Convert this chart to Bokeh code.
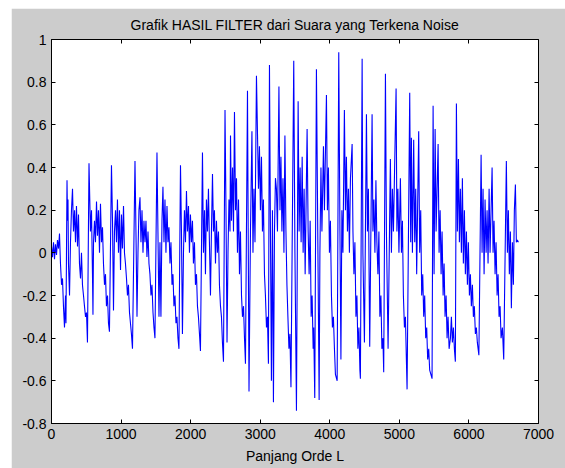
from bokeh.plotting import figure
from bokeh.models import FixedTicker, CustomJSTickFormatter, LinearAxis, Range1d
from bokeh.embed import file_html
from bokeh.resources import INLINE

title_text = "Grafik HASIL FILTER dari Suara yang Terkena Noise"
x_label = "Panjang Orde L"
x_ticks = [0, 1000, 2000, 3000, 4000, 5000, 6000, 7000]
y_ticks = [-0.8, -0.6, -0.4, -0.2, 0.0, 0.2, 0.4, 0.6, 0.8, 1.0]

sample_idx = [
    0, 14, 29, 43, 57, 72, 86, 101, 115, 129, 144, 158, 172, 187, 201, 208,
    223, 230, 237, 244, 259, 273, 287, 302, 316, 331, 345, 359, 374, 388, 402, 417, 431, 445, 460, 474, 489, 503, 517,
    539, 560, 575, 589, 596, 604, 618, 632, 647, 661, 675, 690, 704, 719, 733, 747, 762, 776, 790, 805, 819, 833,
    862, 877, 891, 905, 920, 934, 948, 963, 977, 992, 1006, 1020, 1035, 1049, 1063, 1078, 1092, 1106, 1121, 1135, 1149, 1164,
    1200, 1214, 1229, 1243, 1257, 1272, 1286, 1301, 1315, 1329, 1344, 1358, 1372, 1387, 1401, 1415, 1430, 1444, 1459, 1473, 1487,
    1516, 1530, 1545, 1559, 1573, 1588, 1602, 1617, 1631, 1645, 1660, 1674, 1688, 1703, 1717, 1732, 1746, 1760, 1775, 1789, 1803, 1818, 1832,
    1854, 1868, 1882, 1897, 1911, 1926, 1940, 1954, 1969, 1983, 1997, 2012, 2026, 2040, 2055, 2069, 2084, 2098, 2112, 2127, 2141,
    2170, 2184, 2199, 2213, 2227, 2242, 2256, 2270, 2285, 2299, 2314, 2328, 2342, 2357, 2371, 2385, 2400, 2414, 2429, 2443, 2457, 2472,
    2494, 2508, 2523, 2537, 2551, 2566, 2573, 2587, 2602, 2616, 2630, 2645, 2659, 2673, 2688, 2702, 2716, 2731, 2745, 2760, 2774, 2788,
    2817, 2839, 2860, 2881, 2896, 2910, 2925, 2946, 2975, 2989, 3003, 3018, 3032, 3046, 3061, 3075, 3090, 3104, 3118,
    3133, 3147, 3161, 3176, 3190, 3205, 3219, 3233, 3248, 3269, 3284, 3298, 3312, 3327, 3341, 3355, 3370, 3384, 3398, 3413, 3427, 3442,
    3482, 3499, 3521, 3545, 3559, 3574, 3588, 3603, 3617, 3631, 3646, 3674, 3689, 3703, 3718, 3732, 3746, 3761, 3769, 3784,
    3808, 3847, 3858, 3873, 3887, 3909, 3923, 3952, 3966, 3980, 3995, 4009, 4024, 4038, 4052, 4067, 4081, 4106,
    4129, 4146, 4160, 4174, 4189, 4210, 4225, 4239, 4254, 4268, 4282, 4297, 4321, 4333, 4347, 4361, 4376, 4390, 4404, 4419, 4433, 4440,
    4465, 4476, 4498, 4527, 4541, 4555, 4574, 4608, 4620, 4634, 4649, 4663, 4677, 4692, 4706, 4720, 4735, 4749, 4764, 4775,
    4800, 4814, 4838, 4871, 4886, 4900, 4915, 4953, 4965, 4979, 4994, 5015, 5030, 5044, 5058, 5073, 5087, 5101, 5111,
    5149, 5163, 5173, 5188, 5206, 5221, 5235, 5249, 5278, 5292, 5307, 5321, 5336, 5350, 5364, 5379, 5393, 5407, 5422, 5436, 5470,
    5485, 5499, 5514, 5528, 5557, 5571, 5586, 5600, 5614, 5629, 5643, 5657, 5672, 5686, 5700, 5715, 5734, 5748, 5762, 5777, 5791, 5805,
    5820, 5834, 5849, 5863, 5877, 5892, 5906, 5920, 5935, 5949, 5964, 5978, 5992, 6007, 6021, 6035, 6050, 6064, 6078, 6093, 6107, 6121, 6143,
    6175, 6189, 6203, 6218, 6232, 6247, 6261, 6275, 6290, 6304, 6333, 6347, 6361, 6376, 6390, 6405, 6419, 6433, 6448, 6462, 6481, 6500,
    6538, 6553, 6567, 6581, 6596, 6610, 6625, 6639, 6653, 6668, 6682, 6696, 6711,
]

amplitude = [
    0.03, -0.02, 0.05, -0.03, 0.04, -0.01, 0.06, 0.02, 0.09, -0.05, -0.15, -0.12, -0.25, -0.35, -0.20, -0.33,
    0.34, 0.15, 0.25, -0.05, -0.20, 0.05, 0.20, 0.30, 0.10, 0.20, 0.05, 0.22, 0.03, 0.18, -0.05, -0.12, 0.00, -0.15, -0.20, -0.25, -0.30, -0.28, -0.42,
    0.42, 0.10, 0.20, -0.10, -0.29, 0.05, 0.15, 0.05, 0.24, 0.08, 0.20, 0.00, 0.23, 0.05, 0.12, -0.05, -0.15, -0.10, -0.25, -0.20, -0.33, -0.37,
    0.41, 0.15, -0.27, 0.10, 0.20, 0.05, 0.25, 0.00, 0.20, -0.08, 0.18, 0.02, 0.22, 0.00, -0.05, -0.12, -0.20, -0.15, -0.28, -0.33, -0.38, -0.45,
    0.43, 0.10, -0.30, 0.00, 0.20, 0.26, 0.05, 0.20, 0.00, 0.15, 0.05, 0.15, -0.02, 0.10, -0.05, -0.10, -0.20, -0.15, -0.28, -0.35, -0.40,
    0.47, 0.10, -0.30, 0.05, -0.30, 0.15, 0.31, 0.05, 0.25, 0.00, 0.22, 0.05, 0.12, -0.05, 0.05, -0.15, -0.10, -0.25, -0.20, -0.33, -0.30, -0.40, -0.45,
    0.41, 0.10, -0.38, 0.00, 0.20, 0.05, 0.29, 0.10, 0.22, 0.00, 0.18, 0.05, 0.15, -0.05, 0.05, -0.15, -0.10, -0.25, -0.30, -0.38, -0.46,
    0.47, 0.00, 0.20, -0.10, 0.25, 0.10, 0.30, 0.05, -0.20, 0.10, 0.37, 0.10, 0.20, -0.05, 0.15, 0.00, 0.10, -0.15, -0.25, -0.30, -0.42, -0.51,
    0.67, 0.20, -0.42, 0.00, 0.25, 0.10, 0.55, 0.15, 0.40, 0.10, 0.66, 0.20, 0.35, 0.00, 0.25, -0.10, 0.10, -0.20, -0.30, -0.25, -0.40, -0.52,
    0.76, -0.65, 0.10, 0.57, 0.00, 0.30, 0.05, 0.83, 0.30, 0.50, 0.20, 0.45, 0.10, 0.25, -0.10, -0.20, -0.35, -0.30, -0.52,
    0.88, 0.10, -0.60, 0.20, -0.70, 0.10, 0.35, 0.30, 0.10, 0.78, 0.20, 0.45, 0.10, 0.35, 0.00, 0.55, 0.10, -0.15, -0.30, -0.45, -0.38, -0.63,
    0.90, 0.00, -0.74, 0.71, 0.10, 0.40, 0.05, 0.45, 0.00, 0.30, -0.10, 0.58, 0.10, -0.10, 0.15, -0.30, -0.20, -0.45, -0.35, -0.68,
    0.86, -0.69, 0.00, 0.40, 0.10, 0.50, 0.20, 0.74, 0.20, 0.40, 0.00, 0.15, -0.20, -0.35, -0.30, -0.45, -0.57, -0.60,
    0.94, 0.10, -0.50, 0.20, 0.00, 0.67, 0.20, 0.45, 0.10, 0.30, 0.00, 0.35, 0.51, 0.10, -0.10, 0.05, -0.30, -0.20, -0.45, -0.35, -0.55, -0.59,
    0.91, 0.00, -0.42, 0.65, 0.10, 0.30, -0.44, 0.65, 0.10, 0.25, 0.00, 0.34, 0.05, -0.10, 0.10, -0.30, -0.20, -0.45, -0.40, -0.56,
    0.84, 0.10, -0.45, 0.44, 0.00, 0.30, 0.10, 0.77, 0.10, 0.30, 0.00, 0.35, 0.00, 0.15, -0.20, -0.35, -0.30, -0.50, -0.64,
    0.75, 0.05, 0.54, 0.00, 0.53, 0.05, 0.30, -0.10, 0.57, 0.00, 0.20, -0.20, -0.10, -0.30, -0.20, -0.40, -0.35, -0.50, -0.45, -0.55, -0.59,
    0.69, -0.10, 0.58, 0.10, 0.51, 0.00, 0.20, -0.10, 0.10, -0.20, -0.05, -0.30, -0.20, -0.40, -0.30, -0.45, -0.40, -0.30, -0.42, -0.35, -0.45, -0.51,
    0.70, 0.10, 0.44, 0.05, 0.30, 0.00, 0.35, -0.05, 0.20, -0.10, 0.10, -0.15, 0.05, -0.20, -0.10, -0.25, -0.15, -0.30, -0.25, -0.38, -0.35, -0.42, -0.48,
    0.46, 0.00, 0.30, -0.10, 0.25, 0.00, 0.20, -0.05, 0.30, 0.00, 0.40, 0.00, 0.15, -0.10, 0.05, -0.20, -0.10, -0.30, -0.25, -0.40, -0.35, -0.50,
    0.43, 0.00, 0.20, -0.10, 0.10, -0.26, 0.05, -0.15, 0.20, 0.32, 0.05, 0.06, 0.05,
]

FONT = "Liberation Sans"
GREY = "#cccccc"

fmt_code = """
if (Math.abs(tick) < 1e-9) { return "0"; }
if (Math.abs(tick - Math.round(tick)) < 1e-9) { return Math.round(tick).toString(); }
return tick.toFixed(1);
"""

p = figure(
    frame_width=487, frame_height=384,
    x_range=Range1d(0, 7000), y_range=Range1d(-0.8, 1.0),
    output_backend="svg", toolbar_location=None,
    min_border_left=40, min_border_right=27, min_border_top=30, min_border_bottom=46,
    background_fill_color="white", border_fill_color=GREY,
    outline_line_color="black", outline_line_width=1,
)
p.margin = (8, 0, 0, 11)

p.title.text = title_text
p.title.text_font = FONT
p.title.text_font_size = "14px"
p.title.text_font_style = "normal"
p.title.text_color = "black"
p.title.align = "center"
p.title.standoff = 13

p.xgrid.visible = False
p.ygrid.visible = False

for ax, ticks in ((p.xaxis[0], x_ticks), (p.yaxis[0], y_ticks)):
    ax.ticker = FixedTicker(ticks=ticks)
    ax.formatter = CustomJSTickFormatter(code=fmt_code)
    ax.major_tick_in = 4
    ax.major_tick_out = 0
    ax.minor_tick_line_color = None
    ax.axis_line_color = "black"
    ax.major_tick_line_color = "black"
    ax.major_label_text_font = FONT
    ax.major_label_text_font_size = "14px"
    ax.major_label_text_color = "black"

p.xaxis.axis_label = x_label
p.xaxis.axis_label_text_font = FONT
p.xaxis.axis_label_text_font_size = "14px"
p.xaxis.axis_label_text_font_style = "normal"
p.xaxis.axis_label_text_color = "black"
p.xaxis.axis_label_standoff = 6

for loc, ticks in (("above", x_ticks), ("right", y_ticks)):
    extra = LinearAxis(
        ticker=FixedTicker(ticks=ticks),
        formatter=CustomJSTickFormatter(code="return '';"),
        major_label_text_font_size="0px",
        major_label_standoff=0,
        major_tick_in=4, major_tick_out=0,
        minor_tick_line_color=None,
        axis_line_color=None,
        major_tick_line_color="black",
    )
    p.add_layout(extra, loc)

p.line(sample_idx, amplitude, line_color="#0000ff", line_width=1.1)

open("out.html", "w").write(file_html(p, INLINE))
